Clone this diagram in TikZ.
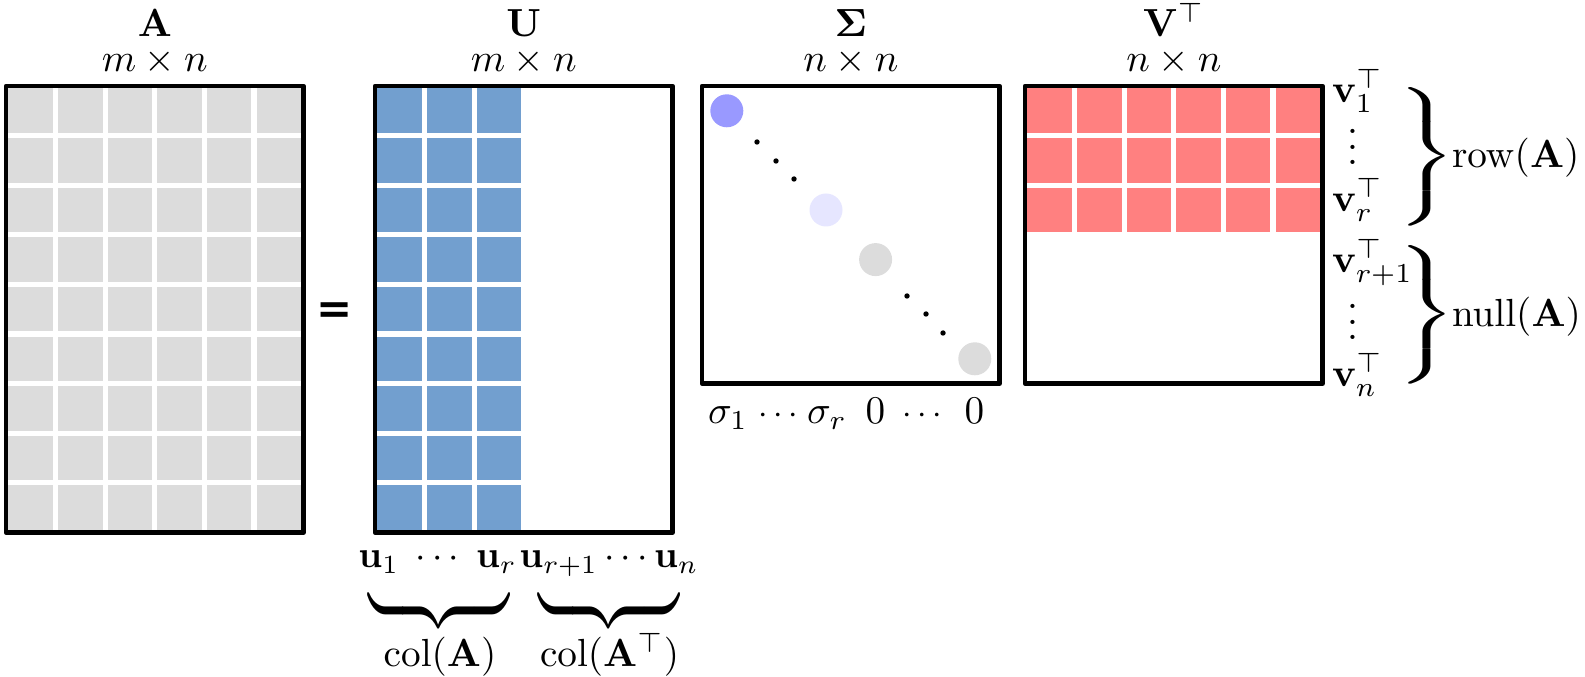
\documentclass[tikz,border=0pt]{standalone}
\usepackage{amsmath}
\usepackage{graphicx}
\usepackage[no-math]{fontspec}
\newfontfamily\eqfont{DejaVu Sans}
\definecolor{cellgray}{RGB}{220,220,220}
\definecolor{ublue}{RGB}{114,159,207}
\definecolor{vred}{RGB}{255,128,128}
\definecolor{sigA}{RGB}{153,153,255}
\definecolor{sigB}{RGB}{230,230,255}
\newcommand{\mybrace}{{\nulldelimiterspace=0pt$\left.\vcenter to 34pt{}\right\}$}}
\tikzset{
  matbox/.style={draw=black, line width=2.6pt, line join=round},
  gridline/.style={draw=white, line width=2.9pt},
  txt/.style={scale=2.25, inner sep=0pt, outer sep=0pt},
  utxt/.style={scale=2.15, inner sep=0pt, outer sep=0pt},
  dtxt/.style={scale=1.95, inner sep=0pt, outer sep=0pt},
  bracenode/.style={inner sep=0pt, outer sep=0pt},
}
\begin{document}
\begin{tikzpicture}[x=0.5737pt,y=-0.5737pt]
\useasboundingbox (0,0) rectangle (1585,677);
% ---- A ----
\fill[cellgray] (6,86) rectangle (303.6,532.4);
\foreach \i in {1,...,5}{\draw[gridline] ({6+49.6*\i},86) -- ({6+49.6*\i},532.4);}
\foreach \j in {1,...,8}{\draw[gridline] (6,{86+49.6*\j}) -- (303.6,{86+49.6*\j});}
\draw[matbox] (6,86) rectangle (303.6,532.4);
% ---- U ----
\fill[ublue] (375,86) rectangle (523.8,532.4);
\foreach \i in {1,2,3}{\draw[gridline] ({375+49.6*\i},86) -- ({375+49.6*\i},532.4);}
\foreach \j in {1,...,8}{\draw[gridline] (375,{86+49.6*\j}) -- (523.8,{86+49.6*\j});}
\draw[matbox] (375,86) rectangle (672.6,532.4);
% ---- Sigma ----
\fill[sigA] (726.8,110.8) circle[radius=16.5];
\fill[sigB] (826,210) circle[radius=16.5];
\fill[cellgray] (875.6,259.6) circle[radius=16.5];
\fill[cellgray] (974.8,358.8) circle[radius=16.5];
\foreach \p in {(757,142),(776,161),(794,179),(907,296),(926,314),(943,333)}{\fill[black] \p circle[radius=2.7];}
\draw[matbox] (702,86) rectangle (999.6,383.6);
% ---- V^T ----
\fill[vred] (1025,86) rectangle (1322.6,234.8);
\foreach \i in {1,...,5}{\draw[gridline] ({1025+49.6*\i},86) -- ({1025+49.6*\i},234.8);}
\foreach \j in {1,2,3}{\draw[gridline] (1025,{86+49.6*\j}) -- (1322.6,{86+49.6*\j});}
\draw[matbox] (1025,86) rectangle (1322.6,383.6);
% ---- titles ----
\node[txt, anchor=base] (tA) at (154.8,37) {$\mathbf{A}$};
\node[txt, anchor=base] (dA) at (154.8,72) {$m \times n$};
\node[txt, anchor=base] (tU) at (523.8,37) {$\mathbf{U}$};
\node[txt, anchor=base] (dU) at (523.8,72) {$m \times n$};
\node[txt, anchor=base] (tS) at (850.8,37) {$\mathbf{\Sigma}$};
\node[txt, anchor=base] (dS) at (850.8,72) {$n \times n$};
\node[txt, anchor=base] (tV) at (1173.8,37) {$\mathbf{V}^\top$};
\node[txt, anchor=base] (dV) at (1173.8,72) {$n \times n$};
% ---- equals ----
\node[scale=2.25, inner sep=0pt] (eq) at (335,313) {\eqfont\bfseries\fontsize{11}{13}\selectfont =};
% ---- Sigma labels ----
\node[txt, anchor=base] (s1) at (728,424) {$\sigma_1$};
\node[dtxt, anchor=base] (sd1) at (781,424) {$\cdots$};
\node[txt, anchor=base] (sr) at (827,424) {$\sigma_r$};
\node[txt, anchor=base] (z1) at (875.5,424) {$0$};
\node[dtxt, anchor=base] (sd2) at (925.5,424) {$\cdots$};
\node[txt, anchor=base] (z2) at (974.5,424) {$0$};
% ---- U labels ----
\node[utxt, anchor=base] (u1) at (437.5,568) {$\mathbf{u}_1\;\cdots\;\mathbf{u}_r$};
\node[utxt, anchor=base] (u2) at (609,568) {$\mathbf{u}_{r+1}\cdots\mathbf{u}_n$};
\node[bracenode, rotate=-90, anchor=west] (ub1) at (439,582) {\scalebox{3.8}[2.29]{\mybrace}};
\node[bracenode, rotate=-90, anchor=west] (ub2) at (609,582) {\scalebox{3.8}[2.29]{\mybrace}};
\node[txt, anchor=base] (colA) at (440,667) {$\mathrm{col}(\mathbf{A})$};
\node[txt, anchor=base] (colAT) at (609.5,667) {$\mathrm{col}(\mathbf{A}^\top)$};
% ---- V labels ----
\node[txt, anchor=base west] (v1) at (1332,103) {$\mathbf{v}_1^\top$};
\node[txt, anchor=base] (vd1) at (1353,165) {\smash{$\vdots$}};
\node[txt, anchor=base west] (vr) at (1332,212) {$\mathbf{v}_r^\top$};
\node[txt, anchor=base west] (vr1) at (1332,273) {$\mathbf{v}_{r+1}^\top$};
\node[txt, anchor=base] (vd2) at (1353,340) {\smash{$\vdots$}};
\node[txt, anchor=base west] (vn) at (1332,387) {$\mathbf{v}_n^\top$};
\node[bracenode, anchor=west] (rb1) at (1397,156.5) {\scalebox{3.8}[2.21]{\mybrace}};
\node[bracenode, anchor=west] (rb2) at (1397,314.5) {\scalebox{3.8}[2.21]{\mybrace}};
\node[txt, anchor=base west] (row) at (1452,168) {$\mathrm{row}(\mathbf{A})$};
\node[txt, anchor=base west] (null) at (1452,327) {$\mathrm{null}(\mathbf{A})$};
\end{tikzpicture}
\end{document}
